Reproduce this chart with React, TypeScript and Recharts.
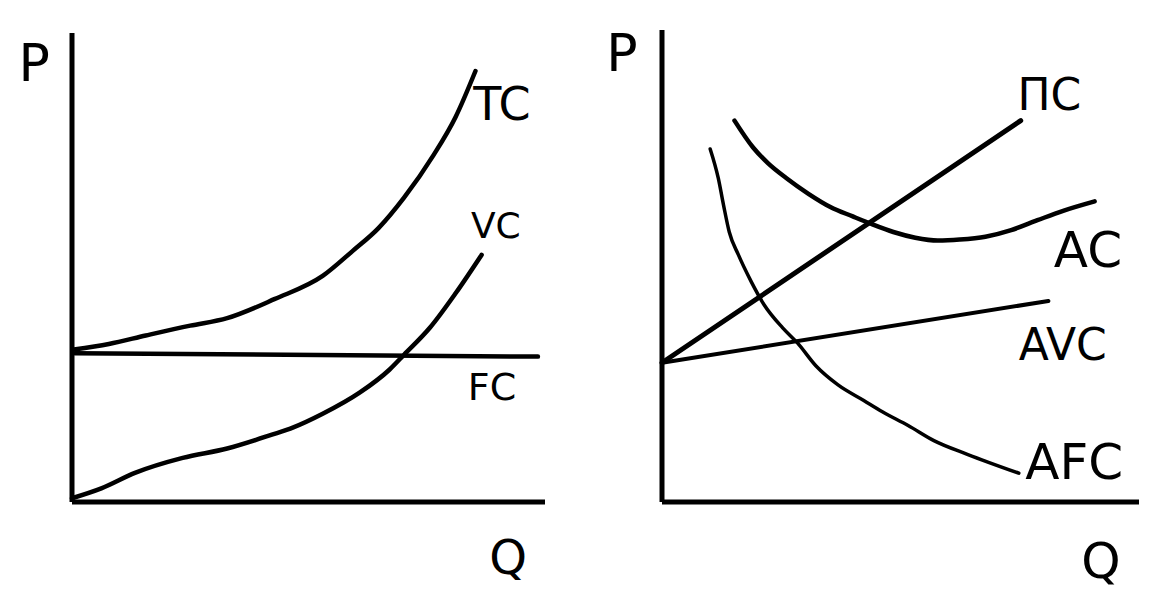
import { LineChart, Line, XAxis, YAxis, ReferenceDot, ReferenceLine } from "recharts";

// left panel: total costs
const tcData = [
  { q: 0.04, p: 3.25 }, { q: 0.78, p: 3.37 }, { q: 1.56, p: 3.55 }, { q: 2.5, p: 3.76 },
  { q: 3.28, p: 3.92 }, { q: 4.29, p: 4.33 }, { q: 5.3, p: 4.82 }, { q: 5.93, p: 5.35 },
  { q: 6.48, p: 5.84 }, { q: 7.02, p: 6.49 }, { q: 7.64, p: 7.39 }, { q: 8.11, p: 8.21 },
  { q: 8.53, p: 9.19 }
];

const vcData = [
  { q: 0, p: 0.08 }, { q: 0.62, p: 0.29 }, { q: 1.33, p: 0.62 }, { q: 2.34, p: 0.94 },
  { q: 3.28, p: 1.14 }, { q: 4.21, p: 1.43 }, { q: 4.68, p: 1.59 }, { q: 5.3, p: 1.88 },
  { q: 6.08, p: 2.33 }, { q: 6.71, p: 2.82 }, { q: 7.02, p: 3.14 }, { q: 7.57, p: 3.72 },
  { q: 8.11, p: 4.45 }, { q: 8.66, p: 5.27 }
];

const fcData = [{ q: 0.06, p: 3.17 }, { q: 9.85, p: 3.1 }];

// right panel: average & marginal costs
const mcData = [{ q: 0, p: 2.95 }, { q: 7.52, p: 8.08 }];

const avcData = [{ q: 0, p: 2.95 }, { q: 8.1, p: 4.26 }];

const afcData = [
  { q: 1.01, p: 7.48 }, { q: 1.18, p: 6.86 }, { q: 1.29, p: 6.29 }, { q: 1.41, p: 5.72 },
  { q: 1.6, p: 5.24 }, { q: 1.87, p: 4.67 }, { q: 2.14, p: 4.18 }, { q: 2.53, p: 3.69 },
  { q: 2.84, p: 3.37 }, { q: 3.23, p: 2.88 }, { q: 3.69, p: 2.48 }, { q: 4.23, p: 2.15 },
  { q: 4.62, p: 1.91 }, { q: 5.16, p: 1.62 }, { q: 5.7, p: 1.3 }, { q: 6.4, p: 1.01 },
  { q: 7.48, p: 0.61 }
];

const acData = [
  { q: 1.52, p: 8.08 }, { q: 1.91, p: 7.51 }, { q: 2.22, p: 7.18 }, { q: 2.61, p: 6.86 },
  { q: 3.07, p: 6.53 }, { q: 3.53, p: 6.25 }, { q: 4.0, p: 6.05 }, { q: 4.39, p: 5.89 },
  { q: 4.85, p: 5.72 }, { q: 5.31, p: 5.6 }, { q: 5.78, p: 5.54 }, { q: 6.24, p: 5.56 },
  { q: 6.78, p: 5.62 }, { q: 7.32, p: 5.76 }, { q: 7.87, p: 5.97 }, { q: 8.41, p: 6.17 },
  { q: 9.07, p: 6.37 }
];

const FONT = "DejaVu Sans";
const INK = "#000";

const lbl = (value: string, fontSize: number) => ({
  value,
  position: "center" as const,
  fontSize,
  fill: INK,
  fontFamily: FONT
});

export default function App() {
  return (
    <div style={{ position: "relative", width: 1152, height: 600, background: "#fff" }}>
      <style>{`body{margin:0;background:#fff}`}</style>

      <div style={{ position: "absolute", left: 0, top: 0 }}>
        <LineChart width={576} height={600} margin={{ top: 33, right: 31, bottom: 98, left: 72 }}>
          <XAxis type="number" dataKey="q" domain={[0, 10]} hide />
          <YAxis type="number" dataKey="p" domain={[0, 10]} hide />
          <ReferenceLine x={0} stroke={INK} strokeWidth={5} ifOverflow="visible" />
          <ReferenceLine y={0} stroke={INK} strokeWidth={5} ifOverflow="visible" />
          <Line data={fcData} dataKey="p" type="linear" stroke={INK} strokeWidth={4.5} dot={false} activeDot={false} isAnimationActive={false} strokeLinecap="round" />
          <Line data={tcData} dataKey="p" type="monotone" stroke={INK} strokeWidth={4.5} dot={false} activeDot={false} isAnimationActive={false} strokeLinecap="round" />
          <Line data={vcData} dataKey="p" type="monotone" stroke={INK} strokeWidth={4.5} dot={false} activeDot={false} isAnimationActive={false} strokeLinecap="round" />
          <ReferenceDot x={-0.8} y={9.36} r={0} ifOverflow="visible" label={lbl("P", 52)} />
          <ReferenceDot x={9.22} y={-1.17} r={0} ifOverflow="visible" label={lbl("Q", 48)} />
          <ReferenceDot x={9.09} y={8.49} r={0} ifOverflow="visible" label={lbl("TC", 46)} />
          <ReferenceDot x={8.96} y={5.91} r={0} ifOverflow="visible" label={lbl("VC", 36)} />
          <ReferenceDot x={8.88} y={2.47} r={0} ifOverflow="visible" label={lbl("FC", 38)} />
        </LineChart>
      </div>

      <div style={{ position: "absolute", left: 576, top: 0 }}>
        <LineChart width={576} height={600} margin={{ top: 30, right: 13, bottom: 98, left: 86 }}>
          <XAxis type="number" dataKey="q" domain={[0, 10]} hide />
          <YAxis type="number" dataKey="p" domain={[0, 10]} hide />
          <ReferenceLine x={0} stroke={INK} strokeWidth={5} ifOverflow="visible" />
          <ReferenceLine y={0} stroke={INK} strokeWidth={5} ifOverflow="visible" />
          <Line data={mcData} dataKey="p" type="linear" stroke={INK} strokeWidth={5} dot={false} activeDot={false} isAnimationActive={false} strokeLinecap="round" />
          <Line data={avcData} dataKey="p" type="linear" stroke={INK} strokeWidth={4} dot={false} activeDot={false} isAnimationActive={false} strokeLinecap="round" />
          <Line data={afcData} dataKey="p" type="monotone" stroke={INK} strokeWidth={3.5} dot={false} activeDot={false} isAnimationActive={false} strokeLinecap="round" />
          <Line data={acData} dataKey="p" type="monotone" stroke={INK} strokeWidth={4.5} dot={false} activeDot={false} isAnimationActive={false} strokeLinecap="round" />
          <ReferenceDot x={-0.84} y={9.53} r={0} ifOverflow="visible" label={lbl("P", 52)} />
          <ReferenceDot x={9.2} y={-1.23} r={0} ifOverflow="visible" label={lbl("Q", 50)} />
          <ReferenceDot x={8.12} y={8.64} r={0} ifOverflow="visible" label={lbl("ПC", 44)} />
          <ReferenceDot x={8.93} y={5.36} r={0} ifOverflow="visible" label={lbl("AC", 50)} />
          <ReferenceDot x={8.4} y={3.33} r={0} ifOverflow="visible" label={lbl("AVC", 44)} />
          <ReferenceDot x={8.64} y={0.87} r={0} ifOverflow="visible" label={lbl("AFC", 50)} />
        </LineChart>
      </div>
    </div>
  );
}
